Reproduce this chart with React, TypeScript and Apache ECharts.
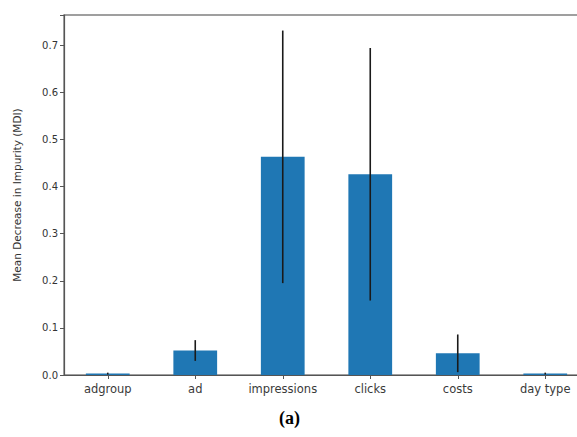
import React, { useEffect, useRef } from "react";
import * as echarts from "echarts";

const categories = ["adgroup", "ad", "impressions", "clicks", "costs", "day type"];
const meanValues = [0.003, 0.052, 0.463, 0.426, 0.046, 0.003];
const stdValues = [0.002, 0.022, 0.268, 0.268, 0.04, 0.002];
const yTicks = [0, 0.1, 0.2, 0.3, 0.4, 0.5, 0.6, 0.7];

export default function App() {
  const ref = useRef<HTMLDivElement>(null);
  useEffect(() => {
    if (!ref.current) return;
    const chart = echarts.init(ref.current, undefined, { renderer: "svg" });
    const errData = categories.map((_, i) => [i, meanValues[i] - stdValues[i], meanValues[i] + stdValues[i]]);
    chart.setOption({
      animation: false,
      backgroundColor: "#ffffff",
      grid: {
        left: 64,
        right: 1,
        top: 15,
        bottom: 62,
        show: true,
        borderColor: "#808080",
        borderWidth: 1.4,
      },
      xAxis: {
        type: "category",
        data: categories,
        axisLine: { show: true, lineStyle: { color: "#555", width: 1.2 } },
        axisTick: { show: true, alignWithLabel: true, interval: 0, length: 4, lineStyle: { color: "#555" } },
        axisLabel: { color: "#3a3a3a", fontSize: 11.5, fontFamily: "DejaVu Sans", margin: 8, interval: 0, hideOverlap: false },
      },
      yAxis: {
        type: "value",
        min: 0,
        max: 0.764,
        interval: 0.1,
        name: "Mean Decrease in Impurity (MDI)",
        nameLocation: "middle",
        nameGap: 42,
        nameTextStyle: { color: "#333", fontSize: 10.5, fontFamily: "DejaVu Sans" },
        splitLine: { show: false },
        axisLine: { show: true, lineStyle: { color: "#555", width: 1.2 } },
        axisTick: { show: true, length: 4, lineStyle: { color: "#555" } },
        axisLabel: {
          color: "#333",
          fontSize: 10,
          fontFamily: "DejaVu Sans",
          margin: 6,
          formatter: (v: number) => (yTicks.some((t) => Math.abs(t - v) < 1e-9) ? v.toFixed(1) : ""),
        },
      },
      series: [
        {
          type: "bar",
          data: meanValues,
          barWidth: "50%",
          itemStyle: { color: "#1f77b4" },
        },
        {
          type: "custom",
          data: errData,
          z: 10,
          renderItem: (params: any, api: any) => {
            const x = api.value(0);
            const lo = api.coord([x, api.value(1)]);
            const hi = api.coord([x, api.value(2)]);
            return {
              type: "line",
              shape: { x1: lo[0], y1: lo[1], x2: hi[0], y2: hi[1] },
              style: { stroke: "#1a1a1a", lineWidth: 1.6 },
            };
          },
        },
      ],
      graphic: [
        {
          type: "text",
          left: 279,
          top: 409,
          style: {
            text: "(a)",
            font: "bold 18px 'Liberation Serif', 'Times New Roman', serif",
            fill: "#000",
          },
        },
      ],
    });
    return () => chart.dispose();
  }, []);
  return (
    <div style={{ position: "absolute", left: 0, top: 0, width: 577, height: 437, overflow: "hidden" }}>
      <div ref={ref} style={{ width: 590, height: 437 }} />
    </div>
  );
}
